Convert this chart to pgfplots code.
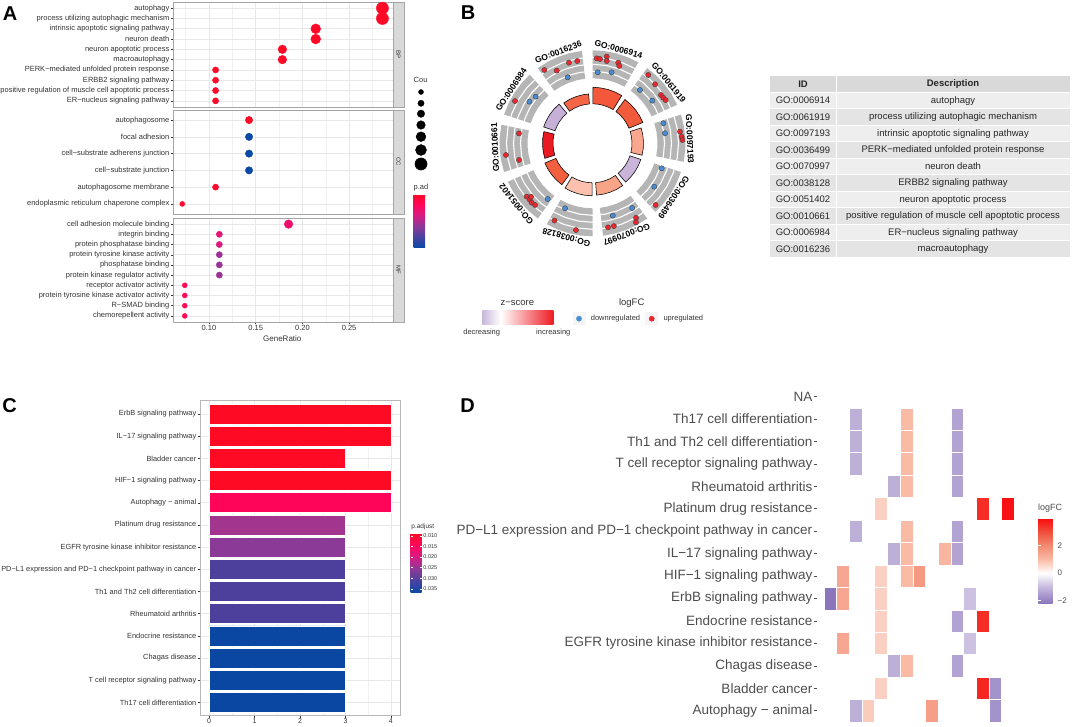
\documentclass[border=0pt]{standalone}
\usepackage{fontspec}
\setmainfont{Liberation Sans}
\usepackage{pgfplots}
\pgfplotsset{compat=1.18}
\usepgfplotslibrary{polar}

\newcommand\fs[1]{\fontsize{#1}{#1}\selectfont}
\definecolor{txt}{RGB}{51,51,51}
\definecolor{dtxt}{RGB}{77,77,77}
\definecolor{grd}{RGB}{232,232,232}
\definecolor{brd}{RGB}{165,165,165}
\definecolor{strip}{RGB}{217,217,217}
\definecolor{upc}{RGB}{236,38,44}
\definecolor{dnc}{RGB}{72,140,212}
\definecolor{ringgray}{RGB}{181,181,181}
% z-score colours of the inner ring (GOCircle)
\definecolor{z1}{RGB}{244,87,58}
\definecolor{z2}{RGB}{242,90,60}
\definecolor{z3}{RGB}{249,167,142}
\definecolor{z4}{RGB}{203,180,218}
\definecolor{z5}{RGB}{248,164,135}
\definecolor{z6}{RGB}{251,193,174}
\definecolor{z7}{RGB}{242,96,63}
\definecolor{z8}{RGB}{234,26,34}
\definecolor{z9}{RGB}{199,176,215}
\definecolor{z10}{RGB}{243,103,71}
% p.adjust colours of the KEGG bars
\definecolor{k1}{RGB}{255,10,37}
\definecolor{k2}{RGB}{255,5,89}
\definecolor{k3}{RGB}{162,54,143}
\definecolor{k4}{RGB}{140,58,151}
\definecolor{k5}{RGB}{76,64,156}
\definecolor{k6}{RGB}{10,71,163}

\pgfplotsset{
  colormap={padj}{rgb255(0cm)=(11,73,166) rgb255(1cm)=(74,66,160) rgb255(2cm)=(142,56,152)
    rgb255(3cm)=(214,28,130) rgb255(4cm)=(255,8,92) rgb255(5cm)=(255,10,38)},
  colormap={lfc}{rgb255(0cm)=(139,118,187) rgb255(1.2cm)=(198,186,222) rgb255(2.2cm)=(255,255,255)
    rgb255(3.2cm)=(249,187,166) rgb255(4.2cm)=(244,138,114) rgb255(5.2cm)=(240,80,60) rgb255(6.2cm)=(250,10,15)},
  /pgf/number format/assume math mode=true,
  facet/.style={scale only axis, width=220pt, xmin=0.0615, xmax=0.297, y dir=reverse,
    xtick={0.10,0.15,0.20,0.25}, minor xtick={0.075,0.125,0.175,0.225,0.275},
    xmajorgrids, xminorgrids, ymajorgrids,
    major grid style={grd, line width=0.6pt}, minor grid style={grd!60, line width=0.35pt},
    axis line style={brd, line width=0.6pt},
    tick align=outside, major tick length=2pt, minor tick length=0pt,
    xtick pos=bottom, ytick pos=left, tick style={txt, line width=0.4pt},
    yticklabel style={font=\fs{7.5}, text=txt, inner sep=1.5pt},
    xticklabel style={font=\fs{7.5}, text=txt, inner sep=1pt},
    xticklabel={\pgfmathprintnumber[fixed, fixed zerofill, precision=2]{\tick}},
    colormap name=padj, point meta min=0, point meta max=1, clip=false},
  dots/.style={scatter, only marks, mark=*, point meta=explicit,
    scatter/use mapped color={draw=mapped color, fill=mapped color},
    visualization depends on={0.6*\thisrow{n}+1.3 \as \msz},
    scatter/@pre marker code/.append style={/tikz/mark size=\msz}},
}

% one ring sector of the circle plot: style, five angles, inner and outer radius
\newcommand\sect[8]{\addplot[#1] coordinates {(#2,#7) (#3,#7) (#4,#7) (#5,#7) (#6,#7)
  (#6,#8) (#5,#8) (#4,#8) (#3,#8) (#2,#8)} -- cycle;}
\newcommand\ring[1]{\addplot[white, line width=1.1pt] coordinates {(0,#1) (10,#1) (20,#1) (30,#1)
  (40,#1) (50,#1) (60,#1) (70,#1) (80,#1) (90,#1) (100,#1) (110,#1) (120,#1) (130,#1) (140,#1)
  (150,#1) (160,#1) (170,#1) (180,#1) (190,#1) (200,#1) (210,#1) (220,#1) (230,#1) (240,#1)
  (250,#1) (260,#1) (270,#1) (280,#1) (290,#1) (300,#1) (310,#1) (320,#1) (330,#1) (340,#1)
  (350,#1) (360,#1)};}

\begin{document}
\begin{tikzpicture}
\useasboundingbox (0,0) rectangle (1072pt,-727pt);

% ---------- backgrounds: table of B, legend keys ----------
\begin{scope}[x=1pt,y=-1pt]
  \fill[gray!30] (770,76) rectangle (1070,92.3);
  \node[font=\bfseries\fs{9.5}, text=black!85] at (803,84.2) {ID};
  \node[font=\bfseries\fs{9.5}, text=black!85] at (953,84.2) {Description};
  \foreach \i/\id/\d in {1/GO:0006914/autophagy,
      2/GO:0061919/process utilizing autophagic mechanism,
      3/GO:0097193/intrinsic apoptotic signaling pathway,
      4/GO:0036499/PERK−mediated unfolded protein response,
      5/GO:0070997/neuron death,
      6/GO:0038128/ERBB2 signaling pathway,
      7/GO:0051402/neuron apoptotic process,
      8/GO:0010661/positive regulation of muscle cell apoptotic process,
      9/GO:0006984/ER−nucleus signaling pathway,
      10/GO:0016236/macroautophagy} {
    \pgfmathsetmacro\yt{92.3+16.5*(\i-1)}
    \pgfmathsetmacro\yb{\yt+16.5}
    \pgfmathsetmacro\ym{\yt+8.25}
    \pgfmathtruncatemacro\odd{mod(\i,2)}
    \ifnum\odd=1 \fill[gray!13] (770,\yt) rectangle (1070,\yb);
    \else \fill[gray!21] (770,\yt) rectangle (1070,\yb); \fi
    \node[font=\fs{9.5}, text=black!85] at (803,\ym) {\id};
    \node[font=\fs{9.5}, text=black!85] at (953,\ym) {\d};
  }
  \draw[white, line width=1pt] (836,76) -- (836,257.3);
  \foreach \k in {0,...,10} {
    \pgfmathsetmacro\yl{92.3+16.5*\k}
    \draw[white, line width=0.8pt] (770,\yl) -- (1070,\yl);
  }
  % legend keys of B
  \fill[gray!8] (572.5,312.2) rectangle (585.5,325.2);
  \fill[gray!8] (645.2,312.2) rectangle (658.2,325.2);
  \shade[left color={rgb,255:red,201;green,183;blue,219}, right color=white] (482.3,311) rectangle (500.5,325);
  \shade[left color=white, middle color={rgb,255:red,249;green,160;blue,135}, right color={rgb,255:red,238;green,28;blue,36}] (500.5,311) rectangle (553.3,325);
\end{scope}

% ---------- A: GO dot plot, three facets ----------
\begin{axis}[facet, at={(173pt,-2pt)}, anchor=north west, height=105pt,
  ymin=0.4, ymax=10.6, ytick={1,...,10}, xticklabels={}, xtick style={draw=none},
  yticklabels={autophagy, process utilizing autophagic mechanism, intrinsic apoptotic signaling pathway,
    neuron death, neuron apoptotic process, macroautophagy, PERK−mediated unfolded protein response,
    ERBB2 signaling pathway, positive regulation of muscle cell apoptotic process, ER−nucleus signaling pathway}]
\addplot[dots] table[x=x, y=y, meta=c] {
y x n c
1 0.2857 8 1
2 0.2857 8 1
3 0.2143 6 1
4 0.2143 6 1
5 0.1786 5 1
6 0.1786 5 1
7 0.1071 3 0.99
8 0.1071 3 0.99
9 0.1071 3 0.99
10 0.1071 3 0.99
};
\end{axis}

\begin{axis}[facet, at={(173pt,-110pt)}, anchor=north west, height=104pt,
  ymin=0.4, ymax=6.6, ytick={1,...,6}, xticklabels={}, xtick style={draw=none},
  yticklabels={autophagosome, focal adhesion, cell−substrate adherens junction, cell−substrate junction,
    autophagosome membrane, endoplasmic reticulum chaperone complex}]
\addplot[dots] table[x=x, y=y, meta=c] {
y x n c
1 0.1429 4 1
2 0.1429 4 0
3 0.1429 4 0
4 0.1429 4 0
5 0.1071 3 0.98
6 0.0714 2 0.97
};
\end{axis}

\begin{axis}[facet, at={(173pt,-218pt)}, anchor=north west, height=104pt,
  ymin=0.4, ymax=10.6, ytick={1,...,10},
  yticklabels={cell adhesion molecule binding, integrin binding, protein phosphatase binding,
    protein tyrosine kinase activity, phosphatase binding, protein kinase regulator activity,
    receptor activator activity, protein tyrosine kinase activator activity, R−SMAD binding,
    chemorepellent activity}]
\addplot[dots] table[x=x, y=y, meta=c] {
y x n c
1 0.1852 5 0.72
2 0.1111 3 0.66
3 0.1111 3 0.62
4 0.1111 3 0.44
5 0.1111 3 0.43
6 0.1111 3 0.43
7 0.0741 2 0.82
8 0.0741 2 0.82
9 0.0741 2 0.82
10 0.0741 2 0.82
};
\end{axis}

% colourbar p.adjust of A (the colourbar sits 0.3cm right of its host axis)
\begin{axis}[at={(405.2pt,-194.3pt)}, anchor=north west, scale only axis, width=11.3pt, height=53pt,
  hide axis, xmin=0, xmax=1, ymin=0, ymax=1,
  colormap name=padj, point meta min=0, point meta max=1, colorbar,
  colorbar style={at={(parent axis.north west)}, anchor=north west, scale only axis,
    width=11.3pt, height=53pt, ytick=\empty, axis line style={draw=none}}]
\addplot[draw=none] coordinates {(0,0)};
\end{axis}

% ---------- B: GO circle ----------
\begin{polaraxis}[at={(592.5pt,-143.3pt)}, anchor=center, scale only axis, width=210pt, height=210pt,
  ymin=0, ymax=105, hide axis, clip=false]
% outer grey bands
\sect{fill=ringgray, draw=none}{90}{82.6}{75.25}{67.9}{60.5}{65}{93}
\sect{fill=ringgray, draw=none}{54}{46.6}{39.25}{31.9}{24.5}{65}{93}
\sect{fill=ringgray, draw=none}{18}{10.6}{3.25}{-4.1}{-11.5}{65}{93}
\sect{fill=ringgray, draw=none}{-18}{-25.4}{-32.75}{-40.1}{-47.5}{65}{93}
\sect{fill=ringgray, draw=none}{-54}{-61.4}{-68.75}{-76.1}{-83.5}{65}{93}
\sect{fill=ringgray, draw=none}{-90}{-97.4}{-104.75}{-112.1}{-119.5}{65}{93}
\sect{fill=ringgray, draw=none}{-126}{-133.4}{-140.75}{-148.1}{-155.5}{65}{93}
\sect{fill=ringgray, draw=none}{-162}{-169.4}{-176.75}{-184.1}{-191.5}{65}{93}
\sect{fill=ringgray, draw=none}{-198}{-205.4}{-212.75}{-220.1}{-227.5}{65}{93}
\sect{fill=ringgray, draw=none}{-234}{-241.4}{-248.75}{-256.1}{-263.5}{65}{93}
\ring{72}
\ring{79}
\ring{86}
% inner ring: bar height = significance, colour = z-score
\sect{fill=z1, draw=black, line width=0.55pt}{89.5}{81.75}{74}{66.25}{58.5}{39.5}{56}
\sect{fill=z2, draw=black, line width=0.55pt}{53.5}{45.75}{38}{30.25}{22.5}{39.5}{54.5}
\sect{fill=z3, draw=black, line width=0.55pt}{17.5}{9.75}{2}{-5.75}{-13.5}{39.5}{51}
\sect{fill=z4, draw=black, line width=0.55pt}{-18.5}{-26.25}{-34}{-41.75}{-49.5}{39.5}{51}
\sect{fill=z5, draw=black, line width=0.55pt}{-54.5}{-62.25}{-70}{-77.75}{-85.5}{39.5}{52}
\sect{fill=z6, draw=black, line width=0.55pt}{-90.5}{-98.25}{-106}{-113.75}{-121.5}{39.5}{52.5}
\sect{fill=z7, draw=black, line width=0.55pt}{-126.5}{-134.25}{-142}{-149.75}{-157.5}{39.5}{51.5}
\sect{fill=z8, draw=black, line width=0.55pt}{-162.5}{-170.25}{-178}{-185.75}{-193.5}{39.5}{50}
\sect{fill=z9, draw=black, line width=0.55pt}{-198.5}{-206.25}{-214}{-221.75}{-229.5}{39.5}{51.5}
\sect{fill=z10, draw=black, line width=0.55pt}{-234.5}{-242.25}{-250}{-257.75}{-265.5}{39.5}{49.5}
% genes: angle, radius (logFC)
\addplot[only marks, mark=*, mark size=2.6pt, mark options={fill=dnc, draw=black!75, line width=0.4pt}]
  table[x index=0, y index=1] {
85.8 71.2
74.9 73.5
48.3 71.4
35.5 73.4
15.8 73.6
7.9 73.2
-19.9 73.6
-35.1 75.5
-74.3 75.1
-58.5 75.9
-112.9 70.6
-128.8 71.5
146.6 75.6
140.6 73.5
110.6 70.5
};
\addplot[only marks, mark=*, mark size=2.6pt, mark options={fill=upc, draw=black!75, line width=0.4pt}]
  table[x index=0, y index=1] {
87.2 85.1
84.9 84.6
80.7 87.8
80.2 83.5
72.3 84.6
70.9 81.8
50.8 88.2
43.3 86
35.2 83.8
32.8 84.2
30.6 85
7.6 88.3
4.2 89.4
2.1 90
-44.3 88.3
-59.7 86.3
-61.2 90.2
-75.5 85.5
-79.5 85.5
-100.8 88.3
-116.2 86.1
-141 84.7
-138 84.4
-135.7 85
-133 84.3
-139 81.5
172.3 74.2
-172.3 87.3
-167.2 75.4
151.4 88.3
123.3 87.7
116.2 81
106.3 84
100.5 83.7
};
\node[rotate=-15.5, font=\bfseries\fs{8.5}] at (axis cs:74.5,97.5) {GO:0006914};
\node[rotate=-51.5, font=\bfseries\fs{8.5}] at (axis cs:38.5,97.5) {GO:0061919};
\node[rotate=-87.5, font=\bfseries\fs{8.5}] at (axis cs:2.5,97.5) {GO:0097193};
\node[rotate=-123.5, font=\bfseries\fs{8.5}] at (axis cs:-33.5,97.5) {GO:0036499};
\node[rotate=-159.5, font=\bfseries\fs{8.5}] at (axis cs:-69.5,97.5) {GO:0070997};
\node[rotate=-195.5, font=\bfseries\fs{8.5}] at (axis cs:-105.5,97.5) {GO:0038128};
\node[rotate=-231.5, font=\bfseries\fs{8.5}] at (axis cs:-141.5,97.5) {GO:0051402};
\node[rotate=-267.5, font=\bfseries\fs{8.5}] at (axis cs:-177.5,97.5) {GO:0010661};
\node[rotate=-303.5, font=\bfseries\fs{8.5}] at (axis cs:-213.5,97.5) {GO:0006984};
\node[rotate=-339.5, font=\bfseries\fs{8.5}] at (axis cs:-249.5,97.5) {GO:0016236};
\end{polaraxis}

% ---------- C: KEGG bar plot ----------
\begin{axis}[at={(200pt,-400.7pt)}, anchor=north west, scale only axis, width=200pt, height=315pt,
  xmin=-0.2, xmax=4.2, ymin=0.4, ymax=14.6, y dir=reverse,
  xtick={0,1,2,3,4}, minor xtick={0.5,1.5,2.5,3.5}, ytick={1,...,14},
  yticklabels={ErbB signaling pathway, IL−17 signaling pathway, Bladder cancer, HIF−1 signaling pathway,
    Autophagy − animal, Platinum drug resistance, EGFR tyrosine kinase inhibitor resistance,
    PD−L1 expression and PD−1 checkpoint pathway in cancer, Th1 and Th2 cell differentiation,
    Rheumatoid arthritis, Endocrine resistance, Chagas disease, T cell receptor signaling pathway,
    Th17 cell differentiation},
  xmajorgrids, xminorgrids, ymajorgrids,
  major grid style={grd, line width=0.6pt}, minor grid style={grd!60, line width=0.35pt},
  axis line style={brd!80, line width=0.6pt},
  tick align=outside, major tick length=2pt, minor tick length=0pt,
  xtick pos=bottom, ytick pos=left, tick style={txt, line width=0.4pt},
  yticklabel style={font=\fs{7.4}, text=txt, inner sep=1.5pt},
  xticklabel style={font=\fs{7}, text=txt, inner sep=1pt},
  bar width=20pt, bar shift=0pt]
\addplot[xbar, fill=k1, draw=white, line width=0.6pt] coordinates {(4,1) (4,2) (3,3) (4,4)};
\addplot[xbar, fill=k2, draw=white, line width=0.6pt] coordinates {(4,5)};
\addplot[xbar, fill=k3, draw=white, line width=0.6pt] coordinates {(3,6)};
\addplot[xbar, fill=k4, draw=white, line width=0.6pt] coordinates {(3,7)};
\addplot[xbar, fill=k5, draw=white, line width=0.6pt] coordinates {(3,8) (3,9) (3,10)};
\addplot[xbar, fill=k6, draw=white, line width=0.6pt] coordinates {(3,11) (3,12) (3,13) (3,14)};
\end{axis}

% colourbar p.adjust of C
\begin{axis}[at={(402.2pt,-533.3pt)}, anchor=north west, scale only axis, width=11pt, height=59.4pt,
  hide axis, xmin=0, xmax=1, ymin=0, ymax=1,
  colormap name=padj, point meta min=0, point meta max=1, colorbar,
  colorbar style={at={(parent axis.north west)}, anchor=north west, scale only axis,
    width=11pt, height=59.4pt, axis line style={draw=none},
    ytick={0.9594,0.78,0.6006,0.4212,0.2418,0.0624},
    yticklabels={0.010,0.015,0.020,0.025,0.030,0.035},
    yticklabel style={font=\fs{5.5}, text=txt, inner sep=1.5pt},
    tick align=inside, major tick length=2pt, ytick style={white, line width=0.4pt}}]
\addplot[draw=none] coordinates {(0,0)};
\end{axis}

% ---------- D: gene x pathway heatmap ----------
\begin{axis}[at={(817pt,-385.3pt)}, anchor=north west, scale only axis, width=197pt, height=336.6pt,
  xmin=-0.05, xmax=15.5, ymin=0.5, ymax=15.5, y dir=reverse,
  axis line style={draw=none}, xtick=\empty, ytick={1,...,15},
  yticklabels={NA, Th17 cell differentiation, Th1 and Th2 cell differentiation,
    T cell receptor signaling pathway, Rheumatoid arthritis, Platinum drug resistance,
    PD−L1 expression and PD−1 checkpoint pathway in cancer, IL−17 signaling pathway,
    HIF−1 signaling pathway, ErbB signaling pathway, Endocrine resistance,
    EGFR tyrosine kinase inhibitor resistance, Chagas disease, Bladder cancer, Autophagy − animal},
  ytick pos=left, tick align=outside, major tick length=3.5pt, ytick style={dtxt, line width=0.5pt},
  yticklabel style={font=\fs{13.5}, text=dtxt, inner sep=1pt},
  colormap name=lfc, point meta min=-2.2, point meta max=4, clip=false]
\addplot[scatter, only marks, mark=square*, mark size=6.335pt, point meta=explicit,
  scatter/use mapped color={draw=white, fill=mapped color},
  mark options={yscale=1.771, line width=0.3pt}]
  table[x=x, y=y, meta=v] {
x y v
1 10 -2.2
2 9 1.4
2 10 1.4
2 12 1.4
3 2 -1.2
3 3 -1.2
3 4 -1.2
3 7 -1.2
3 15 -1.2
4 15 0.75
5 6 0.7
5 9 0.7
5 10 0.7
5 11 0.7
5 12 0.7
5 14 0.7
6 5 -1.2
6 8 -1.2
6 13 -1.2
7 2 1.0
7 3 1.0
7 4 1.0
7 5 1.0
7 7 1.0
7 8 1.0
7 9 1.0
7 13 1.0
8 9 1.7
9 15 1.6
10 8 1.1
11 2 -1.4
11 3 -1.4
11 4 -1.4
11 5 -1.4
11 7 -1.4
11 8 -1.4
11 11 -1.4
11 13 -1.4
12 10 -0.9
12 12 -0.9
13 6 3.5
13 11 3.5
13 14 3.6
14 14 -1.7
14 15 -1.7
15 6 3.9
};
\end{axis}

% colourbar logFC of D
\begin{axis}[at={(1029.8pt,-518.3pt)}, anchor=north west, scale only axis, width=17.7pt, height=85pt,
  hide axis, xmin=0, xmax=1, ymin=0, ymax=1,
  colormap name=lfc, point meta min=-2.2, point meta max=4, colorbar,
  colorbar style={at={(parent axis.north west)}, anchor=north west, scale only axis,
    width=17.7pt, height=85pt, axis line style={draw=none}, ytick={-2,0,2},
    yticklabels={−2,0,2},
    yticklabel style={font=\fs{8}, text=dtxt, inner sep=1.5pt},
    tick align=inside, major tick length=3pt, ytick style={white, line width=0.5pt}}]
\addplot[draw=none] coordinates {(0,0)};
\end{axis}

% ---------- overlay axis for legend symbols (pixel coordinates) ----------
\begin{axis}[at={(0pt,0pt)}, anchor=north west, scale only axis, width=1072pt, height=727pt,
  xmin=0, xmax=1072, ymin=0, ymax=727, y dir=reverse, hide axis, clip=false]
% Count legend of A
\addplot[scatter, only marks, mark=*, point meta=explicit,
  scatter/use mapped color={draw=black, fill=black},
  visualization depends on={0.6*\thisrow{n}+1.3 \as \msz},
  scatter/@pre marker code/.append style={/tikz/mark size=\msz}]
  table[x=x, y=y, meta=n] {
x y n
421 92 2
421 103.3 3
421 113.7 4
421 125 5
421 136.7 6
421 150 7
421 164 8
};
% logFC legend of B
\addplot[only marks, mark=*, mark size=2.6pt, dnc] coordinates {(579,318.7)};
\addplot[only marks, mark=*, mark size=2.6pt, upc] coordinates {(651.7,318.7)};
\end{axis}

% ---------- texts ----------
\begin{scope}[x=1pt,y=-1pt]
  \node[font=\bfseries\fs{20}] at (10,13.7) {A};
  \node[font=\bfseries\fs{20}] at (468,12.2) {B};
  \node[font=\bfseries\fs{20}] at (9.5,405.5) {C};
  \node[font=\bfseries\fs{20}] at (467.5,405.5) {D};
  % facet strips of A
  \draw[brd, fill=strip, line width=0.5pt] (393,2) rectangle (404,107);
  \draw[brd, fill=strip, line width=0.5pt] (393,110) rectangle (404,214);
  \draw[brd, fill=strip, line width=0.5pt] (393,218) rectangle (404,322);
  \node[rotate=-90, font=\fs{6}, text=txt] at (398.5,54.5) {BP};
  \node[rotate=-90, font=\fs{6}, text=txt] at (398.5,162) {CC};
  \node[rotate=-90, font=\fs{6}, text=txt] at (398.5,270) {MF};
  \node[font=\fs{8}, text=txt] at (282.3,338.3) {GeneRatio};
  \node[font=\fs{7.5}, text=txt, anchor=west, inner sep=0] at (413.5,80.3) {Cou};
  \node[font=\fs{7.5}, text=txt, anchor=west, inner sep=0] at (413.5,187.7) {p.ad};
  % legend texts of B
  \node[font=\fs{9.5}, text=txt] at (517.3,302.7) {z−score};
  \node[font=\fs{7.5}, text=txt] at (481.7,332.7) {decreasing};
  \node[font=\fs{7.5}, text=txt] at (553.3,332.7) {increasing};
  \node[font=\fs{9.5}, text=txt] at (631.7,302.7) {logFC};
  \node[font=\fs{7.5}, text=txt, anchor=west, inner sep=0] at (590.7,318.7) {downregulated};
  \node[font=\fs{7.5}, text=txt, anchor=west, inner sep=0] at (663.3,318.7) {upregulated};
  % legend titles of C and D
  \node[font=\fs{6.5}, text=txt] at (422.8,526.7) {p.adjust};
  \node[font=\fs{9}, text=dtxt, anchor=west, inner sep=0] at (1038,508.3) {logFC};
\end{scope}
\end{tikzpicture}
\end{document}
